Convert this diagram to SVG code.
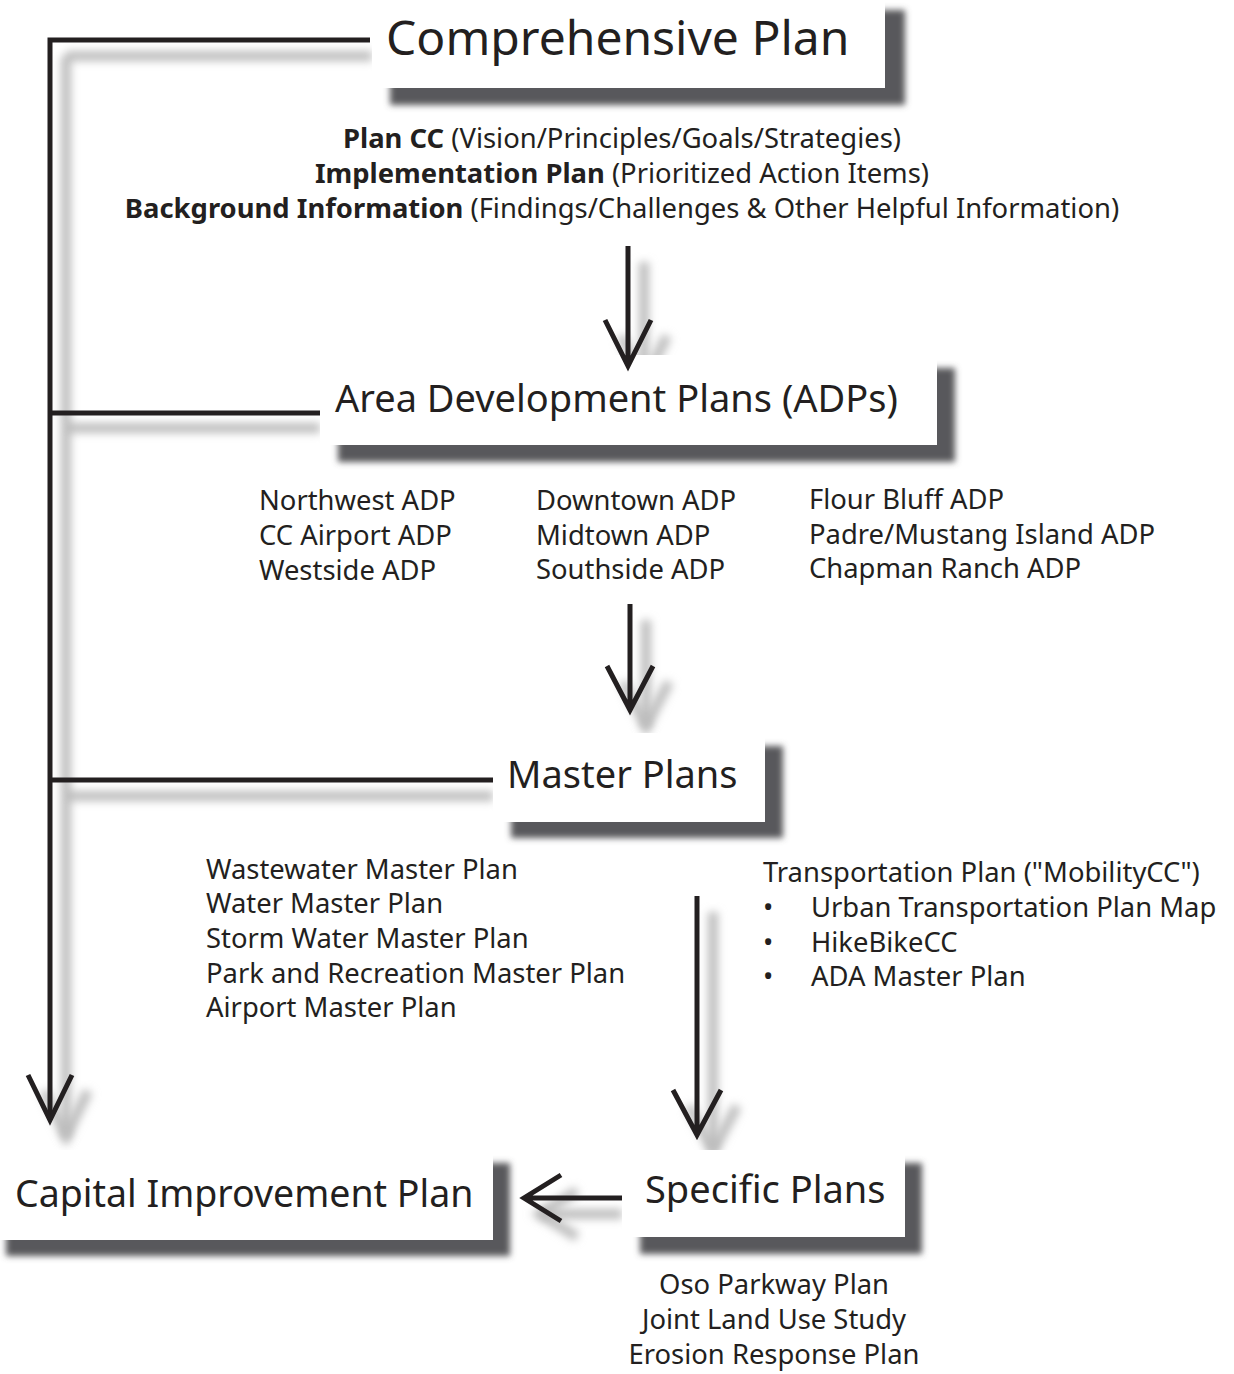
<svg xmlns="http://www.w3.org/2000/svg" width="1234" height="1374" viewBox="0 0 1234 1374">
<defs>
<filter id="boxsh" x="-10%" y="-30%" width="130%" height="160%"><feGaussianBlur stdDeviation="3"/></filter>
<filter id="linesh" x="-50%" y="-50%" width="200%" height="200%"><feGaussianBlur stdDeviation="4"/></filter>
</defs>
<style>
.t{font-family:"Noto Sans","Open Sans",sans-serif;fill:#231f20}
.big{font-size:38px}
.sm{font-size:27.4px}
.b{font-weight:bold}
.shadow{fill:#58595b;filter:url(#boxsh)}
.box{fill:#ffffff}
.ln{stroke:#231f20;stroke-width:5;fill:none;stroke-linecap:butt;stroke-linejoin:miter}
.lsh{stroke:#bdbdbd;stroke-width:10;fill:none;filter:url(#linesh)}
</style>
<rect width="1234" height="1374" fill="#ffffff"/>

<g id="connector-shadows">
<path class="lsh" d="M66 56 H372 M66 56 V1138 M66 428 H320 M66 796 H493"/>
<path class="lsh" d="M644 262 V384 M646 620 V728 M713 912 V1150 M622 1214 H540"/>
<path class="lsh" d="M44 1091 L66 1136 L88 1091 M621 336 L644 382 L667 336 M623 682 L646 726 L669 682 M689 1106 L713 1151 L737 1106 M577 1191 L540 1214 L577 1237"/>
</g>

<g id="node-comprehensive">
<rect class="shadow" x="390" y="10" width="515" height="95"/>
<rect class="box" x="372" y="-5" width="513" height="93"/>
<text class="t" x="386" y="55" font-size="48">Comprehensive Plan</text>
</g>
<g id="node-adp">
<rect class="shadow" x="338" y="368" width="617" height="94"/>
<rect class="box" x="320" y="355" width="617" height="90"/>
<text class="t big" x="335" y="412">Area Development Plans (ADPs)</text>
</g>
<g id="node-master">
<rect class="shadow" x="511" y="746" width="272" height="92"/>
<rect class="box" x="493" y="733" width="272" height="89"/>
<text class="t big" x="507" y="788">Master Plans</text>
</g>
<g id="node-cip">
<rect class="shadow" x="6" y="1163" width="504" height="93"/>
<rect class="box" x="-5" y="1150" width="498" height="90"/>
<text class="t" x="15" y="1207" font-size="37.5">Capital Improvement Plan</text>
</g>
<g id="node-specific">
<rect class="shadow" x="640" y="1163" width="282" height="91"/>
<rect class="box" x="622" y="1150" width="283" height="87"/>
<text class="t big" x="645" y="1203">Specific Plans</text>
</g>

<g id="connectors">
<path class="ln" d="M370 40 H50 V1120 M320 413 H50 M493 780 H50"/>
<path class="ln" d="M28 1075 L50 1120 L72 1075"/>
<path class="ln" d="M628 246 V366 M605 320 L628 366 L651 320"/>
<path class="ln" d="M630 604 V710 M607 666 L630 710 L653 666"/>
<path class="ln" d="M697 896 V1135 M673 1090 L697 1135 L721 1090"/>
<path class="ln" d="M622 1198 H524 M561 1175 L524 1198 L561 1221"/>
</g>

<g id="comp-details">
<text class="t sm" x="622" y="148" text-anchor="middle"><tspan class="b">Plan CC</tspan> (Vision/Principles/Goals/Strategies)</text>
<text class="t sm" x="622" y="183" text-anchor="middle"><tspan class="b">Implementation Plan</tspan> (Prioritized Action Items)</text>
<text class="t sm" x="622" y="218" text-anchor="middle"><tspan class="b">Background Information</tspan> (Findings/Challenges &amp; Other Helpful Information)</text>
</g>
<g id="adp-list">
<text class="t sm" x="259" y="510">Northwest ADP</text>
<text class="t sm" x="259" y="545">CC Airport ADP</text>
<text class="t sm" x="259" y="580">Westside ADP</text>
<text class="t sm" x="536" y="510">Downtown ADP</text>
<text class="t sm" x="536" y="545">Midtown ADP</text>
<text class="t sm" x="536" y="579">Southside ADP</text>
<text class="t sm" x="809" y="509">Flour Bluff ADP</text>
<text class="t sm" x="809" y="544">Padre/Mustang Island ADP</text>
<text class="t sm" x="809" y="578">Chapman Ranch ADP</text>
</g>
<g id="master-list">
<text class="t sm" x="206" y="879">Wastewater Master Plan</text>
<text class="t sm" x="206" y="913">Water Master Plan</text>
<text class="t sm" x="206" y="948">Storm Water Master Plan</text>
<text class="t sm" x="206" y="983">Park and Recreation Master Plan</text>
<text class="t sm" x="206" y="1017">Airport Master Plan</text>
</g>
<g id="transport-list">
<text class="t sm" x="763" y="882">Transportation Plan ("MobilityCC")</text>
<text class="t sm" x="763" y="917">•</text>
<text class="t sm" x="811" y="917">Urban Transportation Plan Map</text>
<text class="t sm" x="763" y="952">•</text>
<text class="t sm" x="811" y="952">HikeBikeCC</text>
<text class="t sm" x="763" y="986">•</text>
<text class="t sm" x="811" y="986">ADA Master Plan</text>
</g>
<g id="specific-list">
<text class="t sm" x="774" y="1294" text-anchor="middle">Oso Parkway Plan</text>
<text class="t sm" x="774" y="1329" text-anchor="middle">Joint Land Use Study</text>
<text class="t sm" x="774" y="1364" text-anchor="middle">Erosion Response Plan</text>
</g>
</svg>
